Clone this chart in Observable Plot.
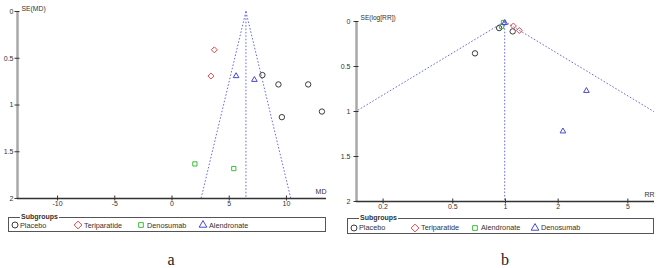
<!DOCTYPE html>
<html>
<head>
<meta charset="utf-8">
<script src="https://cdn.jsdelivr.net/npm/d3@7"></script>
<script src="https://cdn.jsdelivr.net/npm/@observablehq/plot@0.6"></script>
<style>
  html, body { margin: 0; padding: 0; background: #fff; }
  #root { position: relative; width: 661px; height: 268px; overflow: hidden; background: #fff;
          font-family: "Liberation Sans", Arial, sans-serif; color: #333; }
  .panel { position: absolute; top: 0; }
  .legend { position: absolute; border: 1px solid #555; box-sizing: border-box; }
  .lgtitle { position: absolute; top: -6px; background: #fff; font-weight: bold; font-size: 7px;
             line-height: 9px; padding: 0 1px; color: #333; white-space: nowrap; }
  .item { position: absolute; font-size: 7.3px; line-height: 9px; color: #333; white-space: nowrap; }
  .sym { position: absolute; overflow: visible; }
  .cap { position: absolute; font-family: "Liberation Serif", "Times New Roman", serif; font-size: 16px;
         color: #222; transform: translateX(-50%); line-height: 16px; }
</style>
</head>
<body>
<div id="root"></div>
<script>
// ---------- shared ----------
const yTicks = [0, 0.5, 1, 1.5, 2];
const zCrit = 1.96;
const seMax = 2;

// ---------- panel a : SE(MD) vs MD ----------
const groupsA = ["Placebo", "Teriparatide", "Denosumab", "Alendronate"];
const studyGroupA = ["Placebo", "Placebo", "Placebo", "Placebo", "Placebo",
                     "Teriparatide", "Teriparatide", "Denosumab", "Denosumab",
                     "Alendronate", "Alendronate"];
const studyMdA = [7.9, 9.3, 11.9, 9.6, 13.1, 3.7, 3.4, 2.0, 5.4, 5.6, 7.2];
const studySeA = [0.68, 0.78, 0.78, 1.13, 1.07, 0.41, 0.69, 1.63, 1.68, 0.69, 0.73];
const pooledMdA = 6.46;
const xDomainA = [-13.5, 13.5];
const xTicksA = [-10, -5, 0, 5, 10];

// ---------- panel b : SE(log[RR]) vs RR ----------
const groupsB = ["Placebo", "Teriparatide", "Alendronate", "Denosumab"];
const studyGroupB = ["Placebo", "Placebo", "Placebo", "Teriparatide", "Teriparatide",
                     "Alendronate", "Alendronate", "Denosumab", "Denosumab", "Denosumab"];
const studyRrB = [0.67, 0.92, 1.10, 1.11, 1.20, 0.95, 0.975, 0.99, 2.9, 2.13];
const studySeB = [0.354, 0.073, 0.11, 0.05, 0.10, 0.055, 0.011, 0.015, 0.77, 1.22];
const pooledRrB = 0.99;
const xDomainB = [0.141, 7.1];
const xTicksB = [0.2, 0.5, 1, 2, 5];

// ---------- styles ----------
const symbolByGroup = {Placebo: "circle", Teriparatide: "diamond2", Denosumab: "square2", Alendronate: "triangle2"};
const colorByGroupA = {Placebo: "#3a3a3a", Teriparatide: "#e0474c", Denosumab: "#3cbd3c", Alendronate: "#4848d2"};
const symbolByGroupB = {Placebo: "circle", Teriparatide: "diamond2", Alendronate: "square2", Denosumab: "triangle2"};
const colorByGroupB = {Placebo: "#3a3a3a", Teriparatide: "#e0474c", Alendronate: "#3cbd3c", Denosumab: "#4848d2"};
const funnelColor = "#6b6be0";

const root = document.getElementById("root");

function funnelPlot(o) {
  const studies = o.studyGroup.map((g, i) => ({group: g, x: o.studyX[i], se: o.studySe[i]}));
  const funnel = [
    {x1: o.pooled, y1: 0, x2: o.lim(o.pooled, -zCrit * seMax), y2: seMax},
    {x1: o.pooled, y1: 0, x2: o.lim(o.pooled, zCrit * seMax), y2: seMax},
    {x1: o.pooled, y1: 0, x2: o.pooled, y2: seMax}
  ];
  return Plot.plot({
    width: o.width, height: o.height,
    marginLeft: o.ml, marginRight: o.mr, marginTop: o.mt, marginBottom: o.mb,
    style: {fontFamily: "Liberation Sans, Arial, sans-serif", fontSize: "7px", color: "#333", background: "transparent", overflow: "visible"},
    x: {type: o.xType, domain: o.xDomain},
    y: {domain: [0, seMax], reverse: true},
    symbol: {domain: o.groups, range: o.groups.map(g => o.symbols[g])},
    color: {domain: o.groups, range: o.groups.map(g => o.colors[g])},
    marks: [
      Plot.link(funnel, {x1: "x1", y1: "y1", x2: "x2", y2: "y2", stroke: funnelColor, strokeWidth: 1, strokeDasharray: "1.6,1.8", clip: true}),
      Plot.ruleX([o.xDomain[0]], {stroke: "#a8a8a8", strokeWidth: 2.5}),
      Plot.ruleY([seMax], {stroke: "#333", strokeWidth: 1.3}),
      Plot.axisY({ticks: yTicks, tickFormat: d => String(d), tickSize: 5, dx: 2.5, tickPadding: o.yPad, fontSize: 7, strokeWidth: 1}),
      Plot.axisX({ticks: o.xTicks, tickFormat: d => String(d), tickSize: 5, dy: -2.5, tickPadding: 0, fontSize: 7, strokeWidth: 1}),
      Plot.dot(studies, {x: "x", y: "se", symbol: "group", stroke: "group", fill: "none", r: 2.7, strokeWidth: 1}),
      Plot.text([o.yLabel], {frameAnchor: "top-left", dx: 4, dy: o.yLabelDy, textAnchor: "start", fontSize: o.yLabelSize}),
      Plot.text([o.xLabel], {frameAnchor: "bottom-right", dx: 0, dy: -5, textAnchor: "end", fontSize: 7})
    ]
  });
}

const plotA = funnelPlot({
  width: 330, height: 214, ml: 17, mr: 4, mt: 11, mb: 16,
  xType: "linear", xDomain: xDomainA, xTicks: xTicksA,
  groups: groupsA, studyGroup: studyGroupA, studyX: studyMdA, studySe: studySeA,
  symbols: symbolByGroup, colors: colorByGroupA,
  pooled: pooledMdA, lim: (p, d) => p + d,
  yLabel: "SE(MD)", yLabelDy: -5, yLabelSize: 6.8, xLabel: "MD", yPad: 1.5
});
const divA = document.createElement("div");
divA.className = "panel"; divA.style.left = "0px";
divA.appendChild(plotA);
root.appendChild(divA);

const plotB = funnelPlot({
  width: 331, height: 214, ml: 26, mr: 7, mt: 21, mb: 13,
  xType: "log", xDomain: xDomainB, xTicks: xTicksB,
  groups: groupsB, studyGroup: studyGroupB, studyX: studyRrB, studySe: studySeB,
  symbols: symbolByGroupB, colors: colorByGroupB,
  pooled: pooledRrB, lim: (p, d) => p * Math.exp(d),
  yLabel: "SE(log[RR])", yLabelDy: -6, yLabelSize: 6.6, xLabel: "RR", yPad: 3.5
});
const divB = document.createElement("div");
divB.className = "panel"; divB.style.left = "330px";
divB.appendChild(plotB);
root.appendChild(divB);

// ---------- legends ----------
function legend(groups, symbols, colors, box, symX, textX, rowY) {
  const lg = document.createElement("div");
  lg.className = "legend";
  Object.assign(lg.style, {left: box.left + "px", top: box.top + "px", width: box.width + "px", height: box.height + "px"});
  const t = document.createElement("div");
  t.className = "lgtitle"; t.textContent = "Subgroups"; t.style.left = box.titleX + "px";
  lg.appendChild(t);
  const symMap = {circle: d3.symbolCircle, diamond2: d3.symbolDiamond2, square2: d3.symbolSquare2, triangle2: d3.symbolTriangle2};
  const sizeMap = {circle: 28, diamond2: 38, square2: 28, triangle2: 42};
  groups.forEach((g, i) => {
    const s = document.createElementNS("http://www.w3.org/2000/svg", "svg");
    s.setAttribute("class", "sym");
    s.setAttribute("width", 12); s.setAttribute("height", 12);
    s.style.left = (symX[i] - 6) + "px"; s.style.top = (rowY - 6) + "px";
    const p = document.createElementNS("http://www.w3.org/2000/svg", "path");
    p.setAttribute("transform", "translate(6,6)");
    p.setAttribute("d", d3.symbol(symMap[symbols[g]], sizeMap[symbols[g]])());
    p.setAttribute("fill", "none"); p.setAttribute("stroke", colors[g]); p.setAttribute("stroke-width", 1);
    s.appendChild(p);
    lg.appendChild(s);
    const tx = document.createElement("div");
    tx.className = "item"; tx.textContent = g;
    tx.style.left = textX[i] + "px"; tx.style.top = (rowY - 4.5) + "px";
    lg.appendChild(tx);
  });
  root.appendChild(lg);
}
legend(groupsA, symbolByGroup, colorByGroupA,
  {left: 8, top: 217, width: 318, height: 15, titleX: 11},
  [6, 68.5, 131.5, 194], [11, 75, 138, 200], 7);
legend(groupsB, symbolByGroupB, colorByGroupB,
  {left: 347, top: 218, width: 307, height: 15.5, titleX: 11},
  [6, 67, 127, 187], [11, 73, 133, 193], 8.5);

// ---------- captions ----------
[["a", 171], ["b", 505]].forEach(([txt, x]) => {
  const c = document.createElement("div");
  c.className = "cap"; c.textContent = txt;
  c.style.left = x + "px"; c.style.top = "252px";
  root.appendChild(c);
});
</script>
</body>
</html>
